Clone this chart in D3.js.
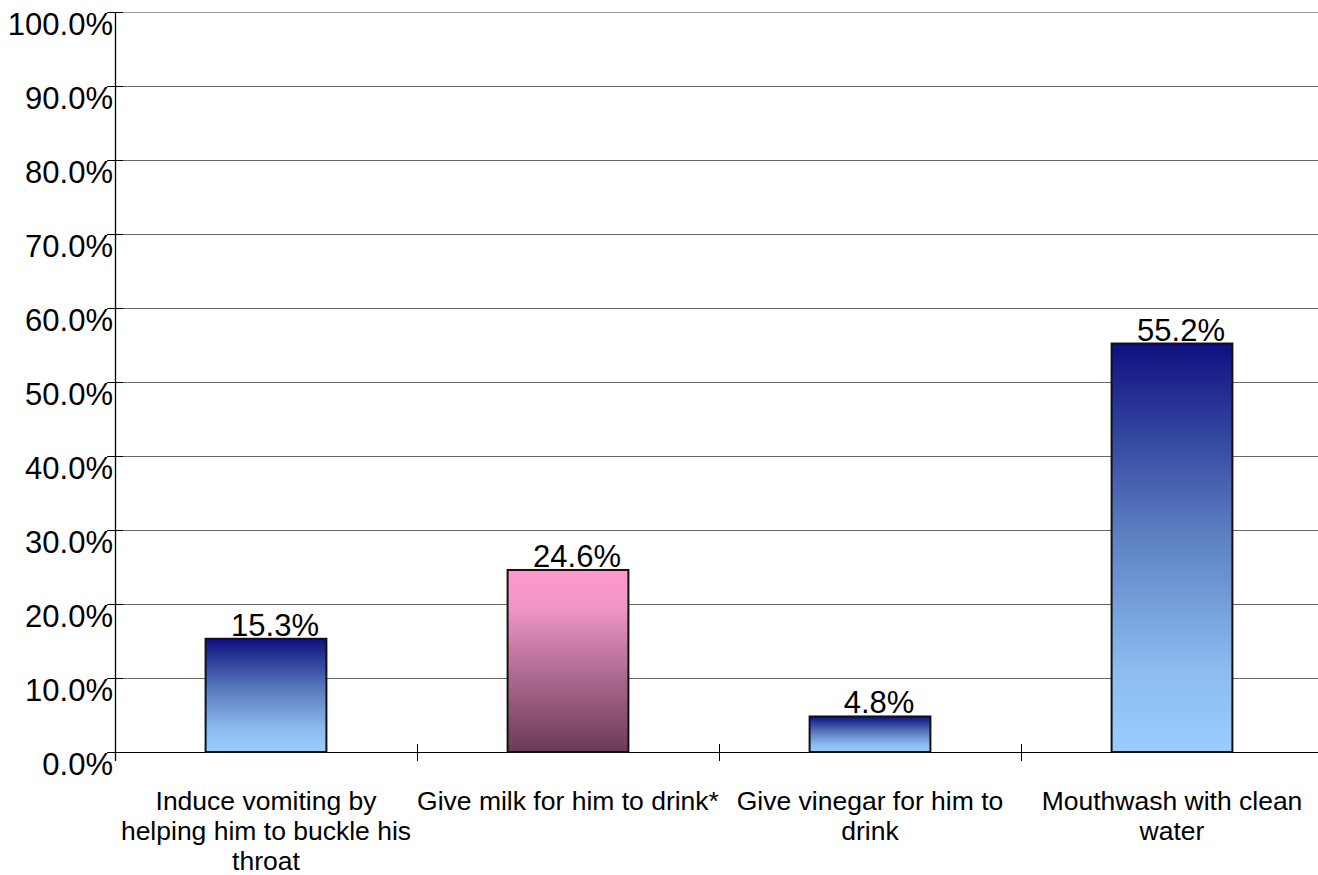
<!DOCTYPE html>
<html><head><meta charset="utf-8">
<script src="https://cdn.jsdelivr.net/npm/d3@7"></script>
<style>body{margin:0;background:#fff}svg{display:block}text{font-family:"Liberation Sans",Arial,Helvetica,sans-serif;fill:#000}</style>
</head><body>
<svg id="c" width="1318" height="875"></svg>
<script>
const categories = ["Induce vomiting by helping him to buckle his throat","Give milk for him to drink*","Give vinegar for him to drink","Mouthwash with clean water"];
const categoryLines = [["Induce vomiting by","helping him to buckle his","throat"],["Give milk for him to drink*"],["Give vinegar for him to","drink"],["Mouthwash with clean","water"]];
const values = [15.3, 24.6, 4.8, 55.2];
const barStyle = ["blue","pink","blue","blue"];
const yTicks = [0,10,20,30,40,50,60,70,80,90,100];

(function(){
const svg = d3.select("#c");
const pL = 115, pR = 1323, pT = 12, pB = 752;
const x = d3.scaleBand().domain(categories).range([pL,pR]).paddingInner(0).paddingOuter(0);
const y = d3.scaleLinear().domain([0,100]).range([pB,pT]);

const defs = svg.append("defs");
const gb = defs.append("linearGradient").attr("id","gblue").attr("x1",0).attr("y1",0).attr("x2",0).attr("y2",1);
gb.append("stop").attr("offset","0%").attr("stop-color","#0d1080");
gb.append("stop").attr("offset","45%").attr("stop-color","#5a7cbf");
gb.append("stop").attr("offset","80%").attr("stop-color","#8cbcf0");
gb.append("stop").attr("offset","100%").attr("stop-color","#99ccff");
const gp = defs.append("linearGradient").attr("id","gpink").attr("x1",0).attr("y1",0).attr("x2",0).attr("y2",1);
gp.append("stop").attr("offset","0%").attr("stop-color","#ff99cc");
gp.append("stop").attr("offset","20%").attr("stop-color","#f097c6");
gp.append("stop").attr("offset","55%").attr("stop-color","#b26d93");
gp.append("stop").attr("offset","100%").attr("stop-color","#6b3a58");

svg.append("g").selectAll("line").data(yTicks.filter(d=>d>0)).join("line")
  .attr("x1",pL).attr("x2",1318).attr("y1",d=>y(d)+0.5).attr("y2",d=>y(d)+0.5)
  .attr("stroke",d=>d===100?"#999":"#666").attr("stroke-width",1);

const yAxis = d3.axisLeft(y).tickValues(yTicks).tickFormat(d=>d.toFixed(1)+"%").tickSize(0).tickPadding(4);
const ga = svg.append("g").attr("transform",`translate(${pL},0)`).call(yAxis);
ga.select(".domain").remove();
ga.selectAll("text").attr("font-size",31).attr("dy","0.74em").attr("x",-2).style("font-family",'"Liberation Sans",Arial,sans-serif');
svg.append("g").selectAll("line").data(yTicks).join("line")
  .attr("x1",pL-8).attr("x2",pL+8).attr("y1",d=>y(d)+0.5).attr("y2",d=>y(d)+0.5).attr("stroke","#000");
svg.append("line").attr("x1",pL+0.5).attr("x2",pL+0.5).attr("y1",pT).attr("y2",pB+9).attr("stroke","#000").attr("stroke-width",1.3);

svg.append("line").attr("x1",pL).attr("x2",1318).attr("y1",pB+0.5).attr("y2",pB+0.5).attr("stroke","#000").attr("stroke-width",1.2);
const bounds = categories.slice(1).map(c=>x(c));
svg.append("g").selectAll("line").data(bounds).join("line")
  .attr("x1",d=>Math.round(d)+0.5).attr("x2",d=>Math.round(d)+0.5).attr("y1",pB-8).attr("y2",pB+9).attr("stroke","#000");

const bw = x.bandwidth()*0.4;
svg.append("g").selectAll("rect").data(values).join("rect")
  .attr("x",(d,i)=>x(categories[i])+x.bandwidth()/2-bw/2)
  .attr("y",d=>y(d)).attr("width",bw).attr("height",d=>pB-y(d))
  .attr("fill",(d,i)=>barStyle[i]==="pink"?"url(#gpink)":"url(#gblue)")
  .attr("stroke","#111").attr("stroke-width",2);

svg.append("g").selectAll("text").data(values).join("text")
  .attr("x",(d,i)=>x(categories[i])+x.bandwidth()/2+9)
  .attr("y",d=>y(d)-3).attr("text-anchor","middle").attr("font-size",31)
  .text(d=>d.toFixed(1)+"%");

const cl = svg.append("g");
categoryLines.forEach((lines,i)=>{
  const cx = x(categories[i])+x.bandwidth()/2;
  const t = cl.append("text").attr("text-anchor","middle").attr("font-size",26.5)
    .attr("x",cx).attr("y",810);
  lines.forEach((l,j)=>t.append("tspan").attr("x",cx).attr("dy",j===0?0:30).text(l));
});
})();
</script>
</body></html>
